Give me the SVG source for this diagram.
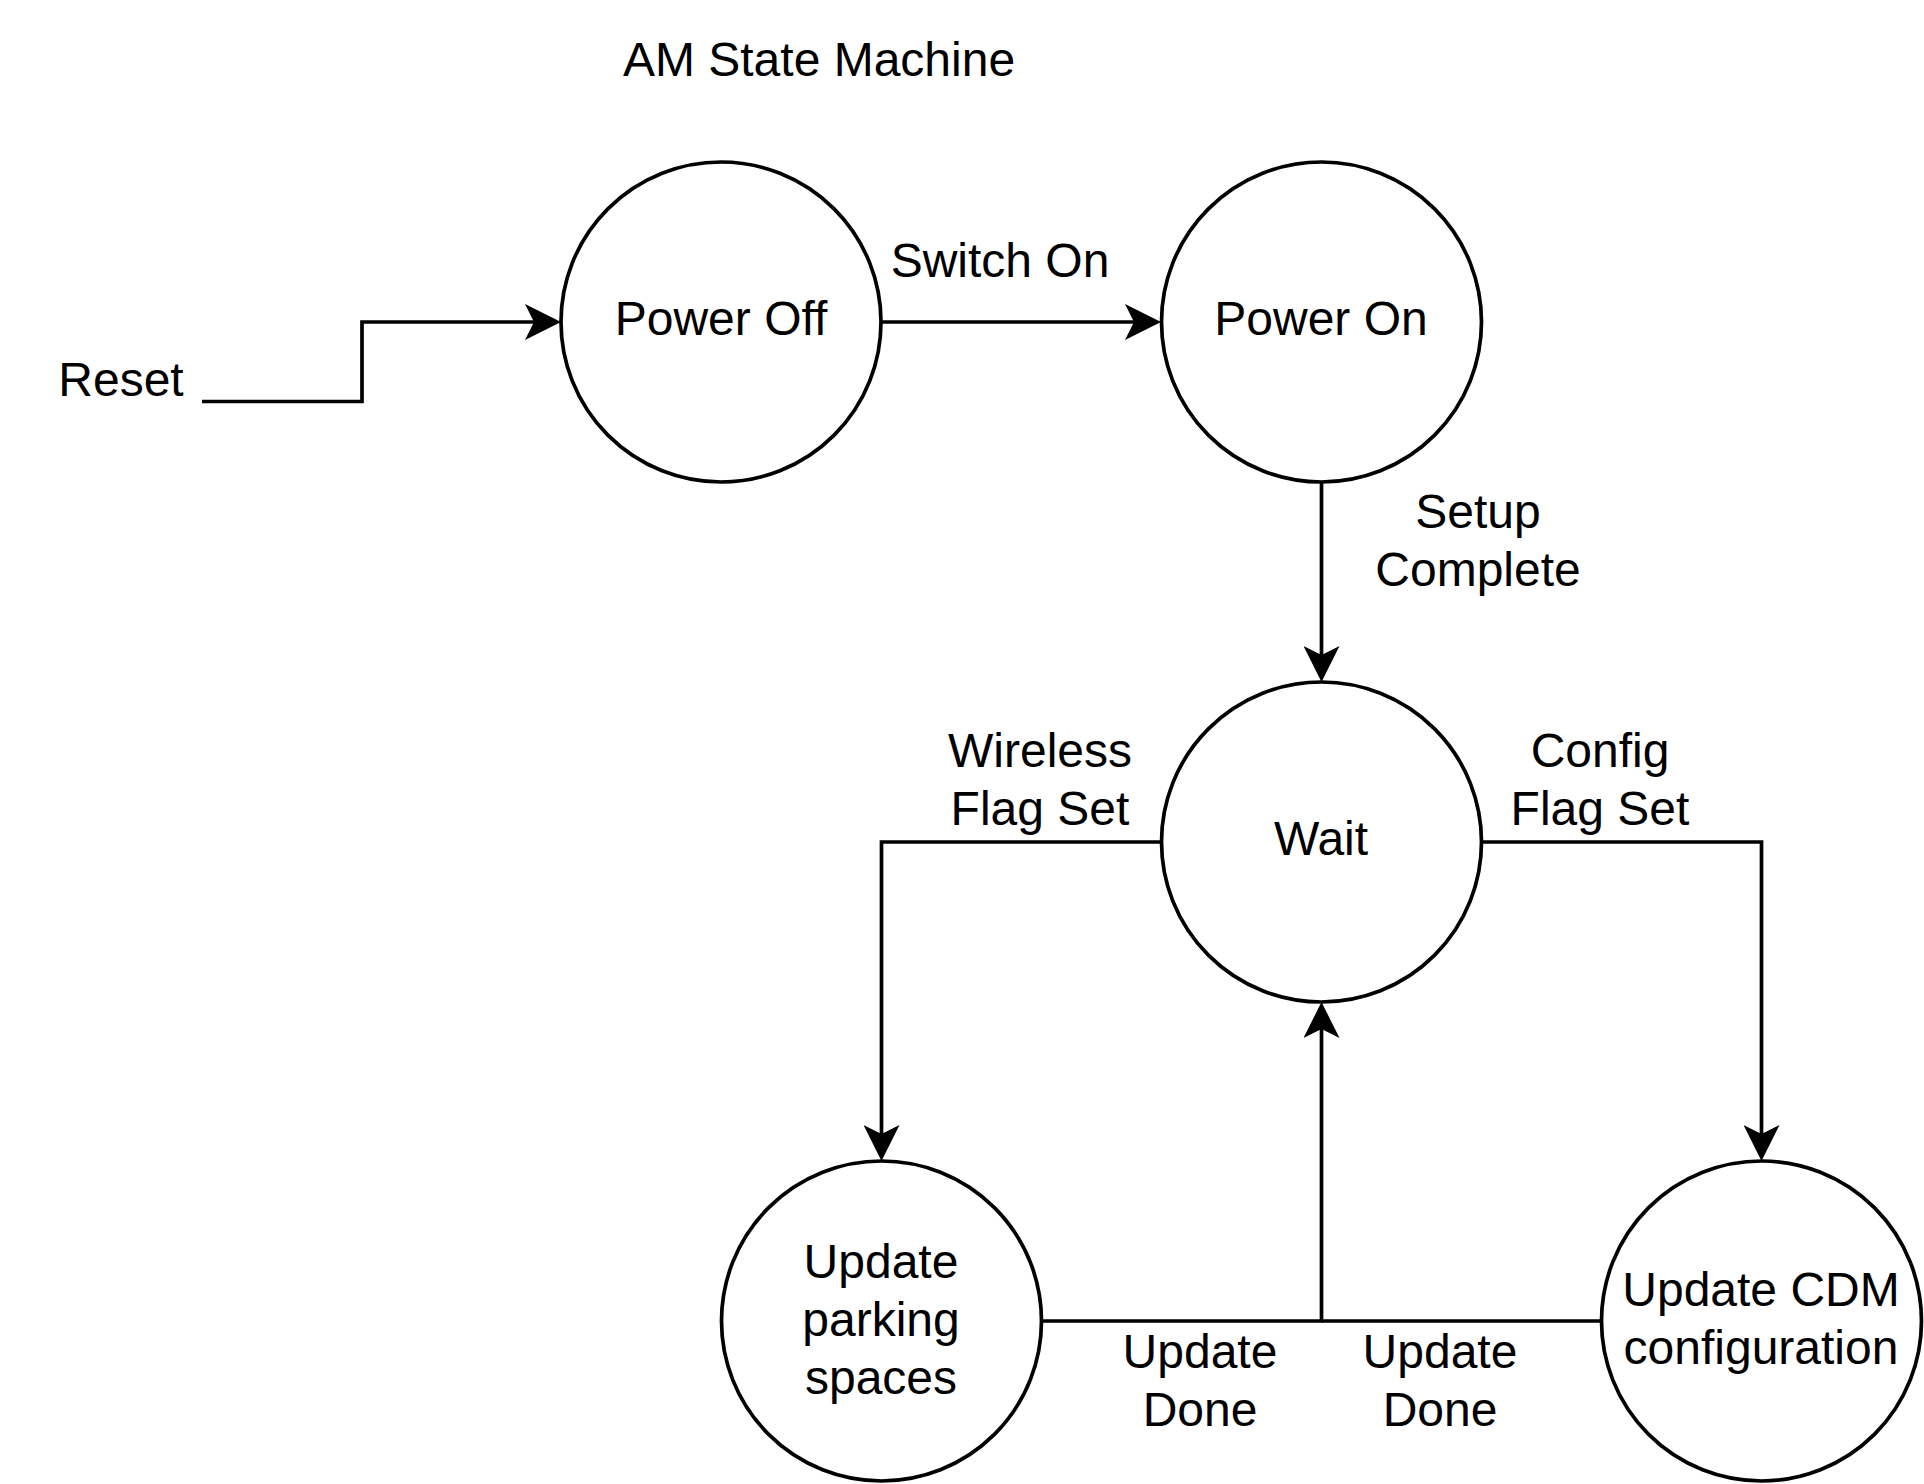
<svg xmlns="http://www.w3.org/2000/svg" width="1924" height="1484" viewBox="0 0 1924 1484">
<style>
  .node { fill: #ffffff; stroke: #000000; stroke-width: 3.7; }
  .edge { fill: none; stroke: #000000; stroke-width: 3.7; }
  text { font-family: "Liberation Sans", Arial, Helvetica, sans-serif; font-size: 48px; fill: #000000; text-anchor: middle; }
</style>
<defs>
  <marker id="arrow" markerUnits="userSpaceOnUse" viewBox="0 0 36 36" markerWidth="36" markerHeight="36" refX="9" refY="18" orient="auto">
    <path d="M0,0 L36,18 L0,36 L9,18 Z" fill="#000000" stroke="none"/>
  </marker>
</defs>
<rect width="1924" height="1484" fill="#ffffff"/>

<g id="title"><text x="819" y="76">AM State Machine</text></g>

<g id="connectors">
  <path class="edge" d="M202,401.5 H362 V322 H534" marker-end="url(#arrow)"/>
  <path class="edge" d="M881,322 H1134" marker-end="url(#arrow)"/>
  <path class="edge" d="M1321.5,482 V655" marker-end="url(#arrow)"/>
  <path class="edge" d="M1161,842 H881.5 V1134" marker-end="url(#arrow)"/>
  <path class="edge" d="M1481,842 H1761.5 V1134" marker-end="url(#arrow)"/>
  <path class="edge" d="M1041,1321 H1321.5 V1029" marker-end="url(#arrow)"/>
  <path class="edge" d="M1601,1321 H1321.5"/>
</g>

<g id="edge-labels">
  <text x="121" y="396">Reset</text>
  <text x="1000" y="277">Switch On</text>
  <text x="1478" y="528">Setup</text>
  <text x="1478" y="586">Complete</text>
  <text x="1040" y="767">Wireless</text>
  <text x="1040" y="825">Flag Set</text>
  <text x="1600" y="767">Config</text>
  <text x="1600" y="825">Flag Set</text>
  <text x="1200" y="1368">Update</text>
  <text x="1200" y="1426">Done</text>
  <text x="1440" y="1368">Update</text>
  <text x="1440" y="1426">Done</text>
</g>

<g id="power-off">
  <circle class="node" cx="721" cy="322" r="160"/>
  <text x="721" y="335">Power Off</text>
</g>
<g id="power-on">
  <circle class="node" cx="1321.5" cy="322" r="160"/>
  <text x="1321" y="335">Power On</text>
</g>
<g id="wait">
  <circle class="node" cx="1321.5" cy="842" r="160"/>
  <text x="1321" y="855">Wait</text>
</g>
<g id="update-parking">
  <circle class="node" cx="881.5" cy="1321" r="160"/>
  <text x="881" y="1278">Update</text>
  <text x="881" y="1336">parking</text>
  <text x="881" y="1394">spaces</text>
</g>
<g id="update-cdm">
  <circle class="node" cx="1761.5" cy="1321" r="160"/>
  <text x="1761" y="1306">Update CDM</text>
  <text x="1761" y="1364">configuration</text>
</g>
</svg>
